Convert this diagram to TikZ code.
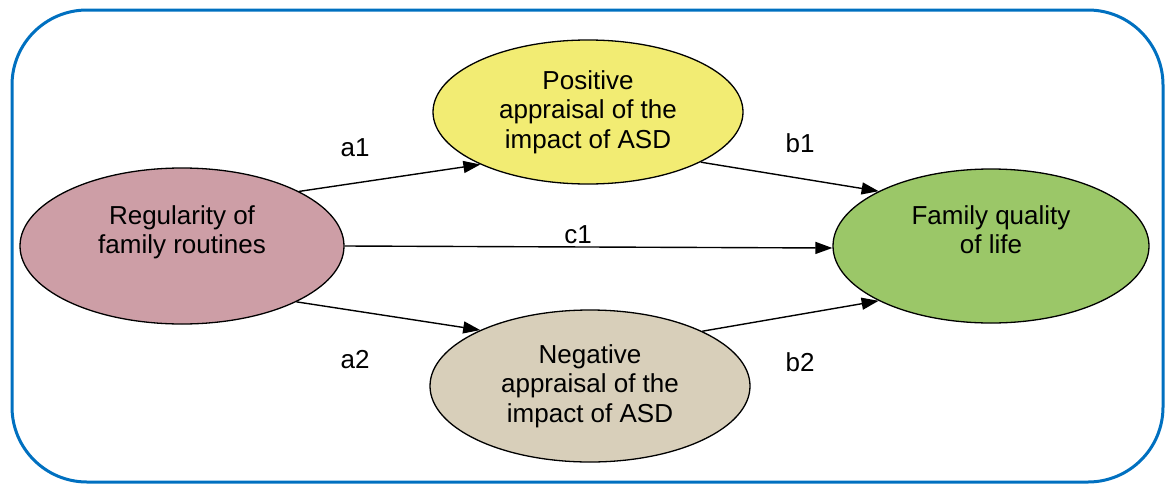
\documentclass[tikz,border=0pt]{standalone}
\usepackage{fontspec}
\setmainfont{Liberation Sans}
\usetikzlibrary{shapes.geometric,arrows.meta}
\definecolor{frameblue}{RGB}{0,112,192}
\definecolor{rosefill}{RGB}{205,158,166}
\definecolor{yellowfill}{RGB}{242,236,115}
\definecolor{beigefill}{RGB}{216,207,186}
\definecolor{greenfill}{RGB}{155,199,104}
\tikzset{
  var/.style={ellipse, draw=black, line width=1.3pt, inner sep=0pt,
    align=center, font=\fontsize{26}{29.5}\selectfont},
  % two-line texts sit a little above the centre of their ellipse
  raised/.style={text depth=33pt},
  path lbl/.style={font=\fontsize{26}{29.5}\selectfont},
  effect/.style={line width=1.4pt, -{Triangle[length=17pt,width=12pt]}}
}
\begin{document}
\begin{tikzpicture}[x=1pt,y=-1pt]
  \useasboundingbox (0,0) rectangle (1167,485);
  % outer frame
  \draw[frameblue, line width=3pt, rounded corners=75pt] (12,10) rectangle (1163,482);

  % variables
  \node[var, raised, fill=rosefill, minimum width=324pt, minimum height=156pt] (reg) at (182,246)
    {Regularity of\\family routines};
  \node[var, fill=yellowfill, minimum width=310pt, minimum height=144pt] (pos) at (588,112)
    {Positive\\appraisal of the\\impact of ASD};
  \node[var, fill=beigefill, minimum width=320pt, minimum height=152pt] (neg) at (590,386)
    {Negative\\appraisal of the\\impact of ASD};
  \node[var, raised, fill=greenfill, minimum width=316pt, minimum height=154pt] (fam) at (991,246)
    {Family quality\\of life};

  % paths
  \draw[effect] (reg.25.6) -- (pos.206.6);
  \draw[effect] (pos.336.5) -- (fam.154.1);
  \draw[effect] (reg.east) -- ([yshift=-2pt]fam.west);
  \draw[effect] (reg.-26) -- (neg.153.6);
  \draw[effect] (neg.26) -- (fam.206.4);

  % path labels
  \node[path lbl] (la1) at (355,148) {a1};
  \node[path lbl] (lb1) at (800,143) {b1};
  \node[path lbl] (lc1) at (578,235) {c1};
  \node[path lbl] (la2) at (355,360) {a2};
  \node[path lbl] (lb2) at (800,362) {b2};
\end{tikzpicture}
\end{document}
